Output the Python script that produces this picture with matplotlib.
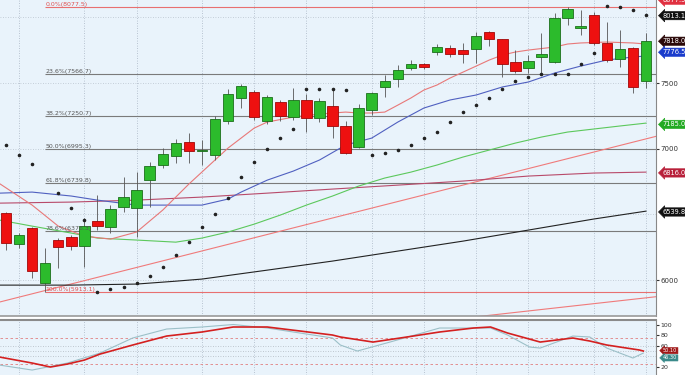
import matplotlib
matplotlib.use("Agg")
import matplotlib.pyplot as plt
import matplotlib.transforms as mtransforms

# ---- candle data (daily OHLC) ----
opens = [6510, 6274, 6396, 5977, 6305, 6328, 6259, 6449, 6404, 6556,
         6548, 6761, 6876, 6944, 7051, 6982, 6952, 7211, 7386, 7431,
         7211, 7355, 7241, 7371, 7234, 7325, 7173, 7013, 7294, 7470,
         7530, 7614, 7645, 7736, 7766, 7751, 7759, 7888, 7835, 7660,
         7614, 7698, 7660, 7995, 7919, 8018, 7805, 7683, 7766, 7515]
highs = [6518, 6358, 6404, 6244, 6320, 6343, 6472, 6647, 6571, 6784,
         6822, 6898, 7005, 7074, 7119, 7066, 7249, 7454, 7492, 7447,
         7409, 7371, 7462, 7416, 7386, 7462, 7211, 7340, 7431, 7561,
         7637, 7675, 7652, 7797, 7789, 7805, 7888, 7896, 7835, 7751,
         7713, 7881, 8033, 8077.5, 8056, 8041, 7964, 7904, 7774, 7881]
lows = [6229, 6244, 6015, 5913.1, 6091, 6229, 6099, 6381, 6358, 6518,
        6328, 6556, 6853, 6891, 6891, 6876, 6914, 7188, 7310, 7218,
        7188, 7211, 7218, 7127, 7203, 7081, 6959, 7005, 7256, 7393,
        7470, 7599, 7607, 7713, 7698, 7652, 7652, 7782, 7546, 7576,
        7576, 7569, 7652, 7942, 7865, 7789, 7660, 7622, 7424, 7462]
closes = [6282, 6343, 6069, 6130, 6252, 6259, 6411, 6411, 6541, 6632,
          6685, 6868, 6959, 7043, 6982, 6990, 7226, 7416, 7477, 7241,
          7393, 7249, 7371, 7234, 7363, 7173, 6967, 7310, 7424, 7515,
          7599, 7645, 7622, 7774, 7721, 7721, 7858, 7835, 7645, 7591,
          7668, 7721, 7995, 8063, 7934, 7805, 7675, 7759, 7470, 7818]

# ---- moving averages (read at candle positions) ----
ma_red_idx = [-0.5, 2, 4, 6, 8, 10, 12, 14, 16, 17, 18, 19, 20, 22, 24, 26, 27, 28, 29, 30,
              31, 32, 33, 34, 36, 37, 38, 39, 40, 42, 43, 44, 46, 48, 49]
ma_red = [6735, 6571, 6411, 6335, 6312, 6366, 6533, 6731, 6914, 7005, 7081, 7157, 7203, 7241,
          7264, 7279, 7272, 7272, 7279, 7332, 7386, 7447, 7485, 7538, 7629, 7675, 7713, 7736,
          7751, 7774, 7797, 7805, 7812, 7805, 7797]
ma_blue_idx = [-0.5, 2, 5, 7, 10, 12, 15, 17, 18, 20, 22, 24, 26, 28, 30, 32, 34, 36, 38, 40,
               42, 44, 46, 48, 49]
ma_blue = [6662, 6670, 6640, 6609, 6571, 6571, 6571, 6617, 6670, 6761, 6830, 6914, 7028, 7081,
           7203, 7310, 7371, 7409, 7470, 7508, 7576, 7629, 7675, 7698, 7706]
ma_green_idx = [-0.5, 2, 5, 7, 10, 13, 15, 17, 19, 21, 23, 25, 27, 29, 31, 33, 35, 37, 39, 41,
                43, 45, 47, 49]
ma_green = [6457, 6411, 6358, 6320, 6305, 6289, 6320, 6366, 6426, 6495, 6571, 6640, 6716, 6777,
            6822, 6876, 6937, 6990, 7043, 7089, 7127, 7150, 7173, 7195]
ma_maroon_idx = [-0.5, 5, 10, 15, 20, 25, 30, 35, 40, 45, 49]
ma_maroon = [6586, 6594, 6609, 6632, 6662, 6693, 6723, 6754, 6792, 6815, 6822]
ma_black_idx = [-0.5, 5, 10, 13, 15, 20, 25, 30, 35, 40, 45, 49]
ma_black = [5962, 5962, 5970, 5992, 6008, 6076, 6145, 6221, 6297, 6381, 6465, 6525]

# ---- parabolic SAR dots ----
sar_idx = [0, 1, 2, 4, 5, 6, 7, 8, 9, 10, 11, 12, 13, 14, 15, 16, 17, 18, 19, 20, 21, 22,
           23, 24, 25, 26, 28, 29, 30, 31, 32, 33, 34, 35, 36, 37, 38, 39, 40, 41, 42, 43,
           44, 45, 46, 47, 48, 49]
sar = [7028, 6952, 6883, 6662, 6548, 6457, 5909, 5932, 5947, 5977, 6030, 6099, 6190, 6289,
       6404, 6503, 6624, 6784, 6898, 6997, 7081, 7150, 7454, 7454, 7454, 7447, 6952, 6967,
       6990, 7028, 7081, 7127, 7203, 7279, 7332, 7386, 7454, 7515, 7546, 7569, 7569, 7569,
       7645, 7728, 8086, 8079, 8056, 8018]

# ---- trend lines ----
trend_a_idx = [-0.5, 49.8]
trend_a = [5833, 7095]
trend_b_idx = [35.1, 49.8]
trend_b = [5711, 5874]

# ---- fibonacci retracement ----
fib_pct = ["0.0%", "23.6%", "38.2%", "50.0%", "61.8%", "78.6%", "100.0%"]
fib_val = [8077.5, 7566.7, 7250.7, 6995.3, 6739.8, 6376.3, 5913.1]
fib_start = 3.0

# ---- right-hand value tags ----
tag_vals = [8077.5, 8013.1, 7818.0, 7776.5, 7185.0, 6816.0, 6539.8]
tag_text = ["8077.5", "8013.1", "7818.0", "7776.5", "7185.0", "6816.0", "6539.8"]
tag_colors = ["#e03040", "#111111", "#2a0808", "#1a3ccc", "#22aa22", "#b8203a", "#111111"]
tag_shift = [5, 0, 0, -4, 0, 0, -2]  # points

# ---- oscillator ----
osc_red_idx = [-0.5, 2, 3.4, 4.7, 6, 7.2, 9.7, 12.3, 15, 17.4, 20, 22.5, 25, 25.6, 28.1,
               30.7, 33.2, 35.8, 37.1, 38.4, 40.9, 43.4, 44.7, 46, 48.5, 48.8]
osc_red = [38.8, 27.5, 20, 25.6, 33.1, 44.4, 61.4, 78.3, 85.9, 95.3, 95.3, 87.8, 80.2, 76.5,
           67.0, 76.5, 85.9, 93.4, 95.3, 84.0, 67.0, 74.6, 68.9, 61.4, 52.0, 50.1]
osc_blue_idx = [-0.5, 2, 4.7, 7.2, 9.7, 12.3, 15, 17.4, 20, 22.5, 25, 25.6, 26.9, 29.4, 33.2,
                37.1, 38.4, 40.1, 40.9, 43.4, 44.7, 46, 48, 48.8]
osc_blue = [23.7, 14.3, 27.5, 46.3, 74.6, 91.5, 95.3, 100, 93.4, 84.0, 74.6, 61.4, 50.1, 67.0,
            93.4, 93.4, 80.2, 57.6, 55.7, 78.3, 76.5, 55.7, 36.9, 46.3]
osc_tag_shift = [0.3, -3.5]  # points

vgrid_idx = [1, 6, 10, 15, 19, 23, 28, 32, 36, 40, 45, 49]

bg = "#e9f3fb"
fig = plt.figure(figsize=(6.85, 3.75), dpi=100)
ax = fig.add_axes([0, 0.157, 0.9577, 0.843], facecolor=bg)
ox = fig.add_axes([0, 0, 0.9577, 0.1467], facecolor=bg)

n = len(opens)
xs = list(range(n))

for a in (ax, ox):
    for g in vgrid_idx:
        a.axvline(g, color="#a8b4c2", lw=0.6, ls=(0, (1, 2)), zorder=0)

for h in [6000, 6500, 7000, 7500, 8000]:
    ax.axhline(h, color="#b8c2cc", lw=0.6, ls=(0, (1, 2)), zorder=0)

# fibonacci lines
for p, v in zip(fib_pct, fib_val):
    col = "#e87070" if p in ("0.0%", "100.0%") else "#7a7a7a"
    tcol = "#e05050" if p in ("0.0%", "100.0%") else "#555555"
    ax.hlines(v, fib_start, n + 1, color=col, lw=0.8, zorder=1)
    ax.text(fib_start, v, f"{p}({v:.1f})", fontsize=4.5, color=tcol,
            va="bottom", ha="left", zorder=6)

# trend lines and averages
ax.plot(trend_a_idx, trend_a, color="#f07a7a", lw=0.8, zorder=2)
ax.plot(trend_b_idx, trend_b, color="#f07a7a", lw=0.8, zorder=2)
ax.plot(ma_black_idx, ma_black, color="#222222", lw=0.8, zorder=2)
ax.plot(ma_maroon_idx, ma_maroon, color="#b84a6a", lw=0.8, zorder=2)
ax.plot(ma_green_idx, ma_green, color="#5cc85c", lw=0.8, zorder=2)
ax.plot(ma_blue_idx, ma_blue, color="#5060c0", lw=0.8, zorder=2)
ax.plot(ma_red_idx, ma_red, color="#e87878", lw=0.8, zorder=2)

# candles
up = [c >= o for o, c in zip(opens, closes)]
ax.vlines(xs, lows, highs, color="#555555", lw=0.6, zorder=3)
bottoms = [min(o, c) for o, c in zip(opens, closes)]
heights = [max(abs(c - o), 8) for o, c in zip(opens, closes)]
ax.bar(xs, heights, bottom=bottoms, width=0.8,
       color=["#2cbb2c" if u else "#ee1010" for u in up],
       edgecolor=["#1b6e1b" if u else "#a00808" for u in up], lw=0.6, zorder=4)

ax.scatter(sar_idx, sar, s=2.5, color="#222222", zorder=5)

ax.set_xlim(-0.46, 49.77)
ax.set_ylim(5726, 8132)
ax.yaxis.tick_right()
ax.set_yticks([6000, 7000, 7500])
ax.set_yticklabels(["6000", "7000", "7500"])
ax.tick_params(axis="y", labelsize=5, length=2, pad=1, colors="#333333")
ax.set_xticks([])
for s in ("top", "left"):
    ax.spines[s].set_visible(False)
ax.spines["right"].set_color("#888888")
ax.spines["bottom"].set_color("#999999")
ax.spines["bottom"].set_linewidth(1.2)

trans = mtransforms.blended_transform_factory(ax.transAxes, ax.transData)
for v, t, c, sh in zip(tag_vals, tag_text, tag_colors, tag_shift):
    ax.annotate(t, xy=(1.0, v), xycoords=trans, xytext=(5, sh), textcoords="offset points",
                fontsize=4.8, color="white", va="center", ha="left", annotation_clip=False,
                bbox=dict(boxstyle="larrow,pad=0.18", fc=c, ec=c, lw=0.4), zorder=10)

# oscillator
for lv in (75, 25):
    ox.axhline(lv, color="#e08080", lw=0.6, ls=(0, (3, 3)), zorder=1)
for lv in (60, 50, 40):
    ox.axhline(lv, color="#b0b8c0", lw=0.6, ls=(0, (1, 2)), zorder=1)
ox.plot(osc_blue_idx, osc_blue, color="#9cc0c8", lw=0.8, zorder=2)
ox.plot(osc_red_idx, osc_red, color="#d42020", lw=1.2, zorder=3)
ox.set_xlim(-0.46, 49.77)
ox.set_ylim(5, 108.5)
ox.yaxis.tick_right()
ox.set_yticks([20, 60, 80, 100])
ox.set_yticklabels(["20", "60", "80", "100"])
ox.tick_params(axis="y", labelsize=4.5, length=2, pad=1, colors="#333333")
ox.set_xticks([])
for s in ("left", "bottom"):
    ox.spines[s].set_visible(False)
ox.spines["top"].set_color("#8a8a8a")
ox.spines["top"].set_linewidth(1.5)
ox.spines["right"].set_color("#888888")

otrans = mtransforms.blended_transform_factory(ox.transAxes, ox.transData)
for v, t, c, sh in zip([osc_red[-1], osc_blue[-1]],
                       [f"{osc_red[-1]:.2f}", f"{osc_blue[-1]:.2f}"],
                       ["#a01818", "#3a8a8a"], osc_tag_shift):
    ox.annotate(t, xy=(1.0, v), xycoords=otrans, xytext=(5, sh), textcoords="offset points",
                fontsize=3.6, color="white", va="center", ha="left", annotation_clip=False,
                bbox=dict(boxstyle="larrow,pad=0.12", fc=c, ec=c, lw=0.4), zorder=10)

fig.savefig("out.png", dpi=100, facecolor="white")
